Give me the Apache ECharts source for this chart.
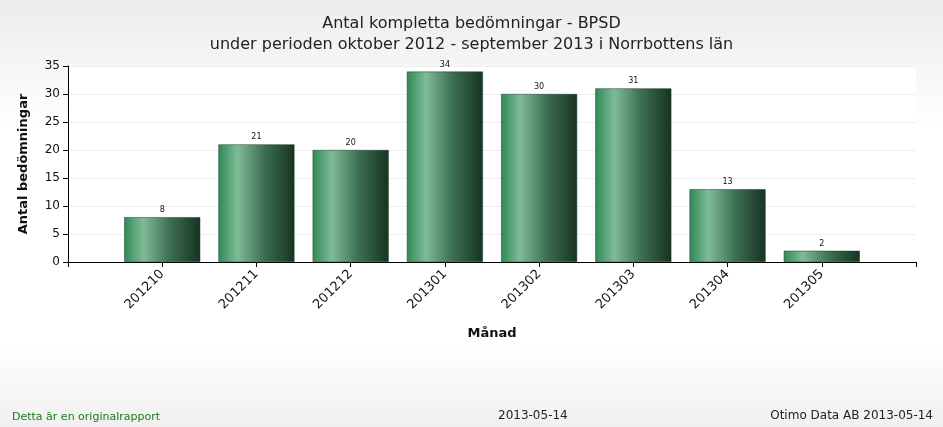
<!DOCTYPE html><html><head><meta charset="utf-8"><script src="https://cdn.jsdelivr.net/npm/echarts@6/dist/echarts.min.js"></script>
<style>html,body{margin:0;padding:0;background:linear-gradient(#ececec,#ffffff 30%,#ffffff 80%,#f0f0f0);}#c{width:943px;height:427px;}</style></head><body><div id="c"></div><script>
const categories=['201210','201211','201212','201301','201302','201303','201304','201305'];
const values=[8,21,20,34,30,31,13,2];
const ch=echarts.init(document.getElementById('c'));
const font='DejaVu Sans';
ch.setOption({
 textStyle:{fontFamily:font},
 title:{text:'Antal kompletta bedömningar - BPSD\nunder perioden oktober 2012 - september 2013 i Norrbottens län',left:'center',top:8,textStyle:{fontSize:16,fontWeight:'normal',color:'#222',lineHeight:21,fontFamily:font}},
 graphic:[
  {type:'rect',shape:{x:68,y:66,width:848,height:196},style:{fill:'#fff'},z:-1},
  {type:'text',left:12,top:412,style:{text:'Detta är en originalrapport',fill:'#1a7a1a',fontSize:11,fontFamily:font}},
  {type:'text',left:498,top:410,style:{text:'2013-05-14',fill:'#222',fontSize:12,fontFamily:font}},
  {type:'text',right:10,top:410,style:{text:'Otimo Data AB 2013-05-14',fill:'#222',fontSize:12,fontFamily:font}}
 ],
 grid:{left:68,right:27,top:66,bottom:165},
 xAxis:{type:'value',min:0,max:9,interval:1,name:'Månad',nameLocation:'middle',nameGap:65,nameTextStyle:{fontWeight:'bold',fontSize:13,color:'#111'},
  axisLine:{lineStyle:{color:'#000'}},axisTick:{lineStyle:{color:'#000'},length:5},splitLine:{show:false},
  axisLabel:{rotate:45,fontSize:13,color:'#111',margin:10,formatter:v=>(v>=1&&v<=8)?categories[v-1]:''}},
 yAxis:{type:'value',min:0,max:35,interval:5,name:'Antal bedömningar',nameLocation:'middle',nameGap:38,nameTextStyle:{fontWeight:'bold',fontSize:13,color:'#111'},
  axisLine:{show:true,lineStyle:{color:'#000'}},axisTick:{show:true,length:5,lineStyle:{color:'#000'}},
  axisLabel:{fontSize:12,color:'#111'},splitLine:{lineStyle:{color:'#eee'}}},
 series:[{type:'bar',barWidth:76,data:values.map((v,i)=>[i+1,v]),
  label:{show:true,position:'top',fontSize:8,color:'#111',distance:3},
  itemStyle:{borderColor:'#1b3a25',borderWidth:0.5,color:new echarts.graphic.LinearGradient(0,0,1,0,[{offset:0,color:'#2e8a55'},{offset:0.25,color:'#80bb98'},{offset:0.6,color:'#3d6f52'},{offset:1,color:'#163322'}])}}]
});
</script></body></html>
